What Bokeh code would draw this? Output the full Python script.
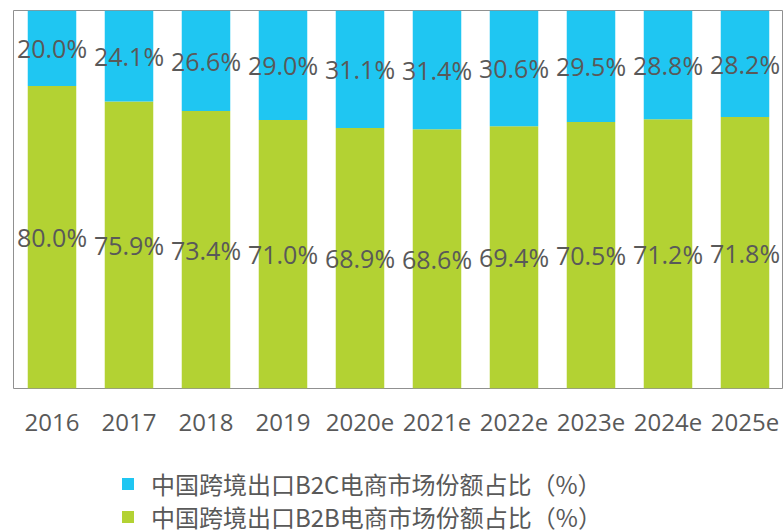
from bokeh.plotting import figure
from bokeh.layouts import column
from bokeh.models import ColumnDataSource, Legend, LegendItem, FactorRange
from bokeh.core.properties import value
from bokeh.embed import file_html
from bokeh.resources import INLINE

years = ["2016", "2017", "2018", "2019", "2020e", "2021e", "2022e", "2023e", "2024e", "2025e"]
b2c = [20.0, 24.1, 26.6, 29.0, 31.1, 31.4, 30.6, 29.5, 28.8, 28.2]
b2b = [80.0, 75.9, 73.4, 71.0, 68.9, 68.6, 69.4, 70.5, 71.2, 71.8]
name_b2c = "中国跨境出口B2C电商市场份额占比（%）"
name_b2b = "中国跨境出口B2B电商市场份额占比（%）"

C_B2C = "#1fc6f2"
C_B2B = "#b3d233"
TXT = "#595959"

src = ColumnDataSource(dict(
    x=years, b2b=b2b, b2c=b2c,
    top=[a + b for a, b in zip(b2b, b2c)],
    mid_b2b=[a / 2 for a in b2b],
    mid_b2c=[a + b / 2 for a, b in zip(b2b, b2c)],
    lab_b2b=["%.1f%%" % v for v in b2b],
    lab_b2c=["%.1f%%" % v for v in b2c],
))

p = figure(x_range=FactorRange(*years, range_padding=0), y_range=(0, 100),
           width=783, height=440, output_backend="svg", toolbar_location=None,
           min_border_left=13, min_border_right=0, min_border_top=10, min_border_bottom=52)

p.vbar(x="x", bottom=0, top="b2b", width=0.63, source=src,
       fill_color=C_B2B, line_color=None)
p.vbar(x="x", bottom="b2b", top="top", width=0.63, source=src,
       fill_color=C_B2C, line_color=None)

for ycol, tcol in (("mid_b2b", "lab_b2b"), ("mid_b2c", "lab_b2c")):
    p.text(x="x", y=ycol, text=tcol, source=src, text_align="center",
           text_baseline="middle", text_font=value("Open Sans"),
           text_font_size="25px", text_color=TXT)

p.grid.visible = False
p.yaxis.visible = False
p.outline_line_color = "#909090"
p.outline_line_width = 1
p.background_fill_color = "white"
p.border_fill_color = "white"

ax = p.xaxis[0]
ax.axis_line_color = None
ax.major_tick_line_color = None
ax.minor_tick_line_color = None
ax.major_tick_out = 0
ax.major_tick_in = 0
ax.major_label_standoff = 25
ax.major_label_text_font = "Open Sans"
ax.major_label_text_font_size = "24px"
ax.major_label_text_color = TXT

# legend figure below the chart
pl = figure(width=783, height=90, output_backend="svg", toolbar_location=None,
            min_border=0, outline_line_color=None, x_range=(0, 1), y_range=(0, 1))
pl.axis.visible = False
pl.grid.visible = False
lr_b2c = pl.vbar(x=[10], bottom=[9], top=[10], width=0.5, fill_color=C_B2C, line_color=None)
lr_b2b = pl.vbar(x=[10], bottom=[9], top=[10], width=0.5, fill_color=C_B2B, line_color=None)

common = dict(orientation="vertical", glyph_width=15, glyph_height=15,
              label_standoff=16, padding=0, margin=0, spacing=0,
              border_line_color=None, background_fill_alpha=0,
              label_text_font="Noto Sans CJK SC", label_text_font_size="24px",
              label_text_color=TXT)
leg1 = Legend(items=[LegendItem(label=name_b2c, renderers=[lr_b2c])],
              location=(107, 29), **common)
leg2 = Legend(items=[LegendItem(label=name_b2b, renderers=[lr_b2b])],
              location=(107, -4), **common)
pl.add_layout(leg1)
pl.add_layout(leg2)

layout = column(p, pl, spacing=0)
open("out.html", "w").write(file_html(layout, INLINE))
